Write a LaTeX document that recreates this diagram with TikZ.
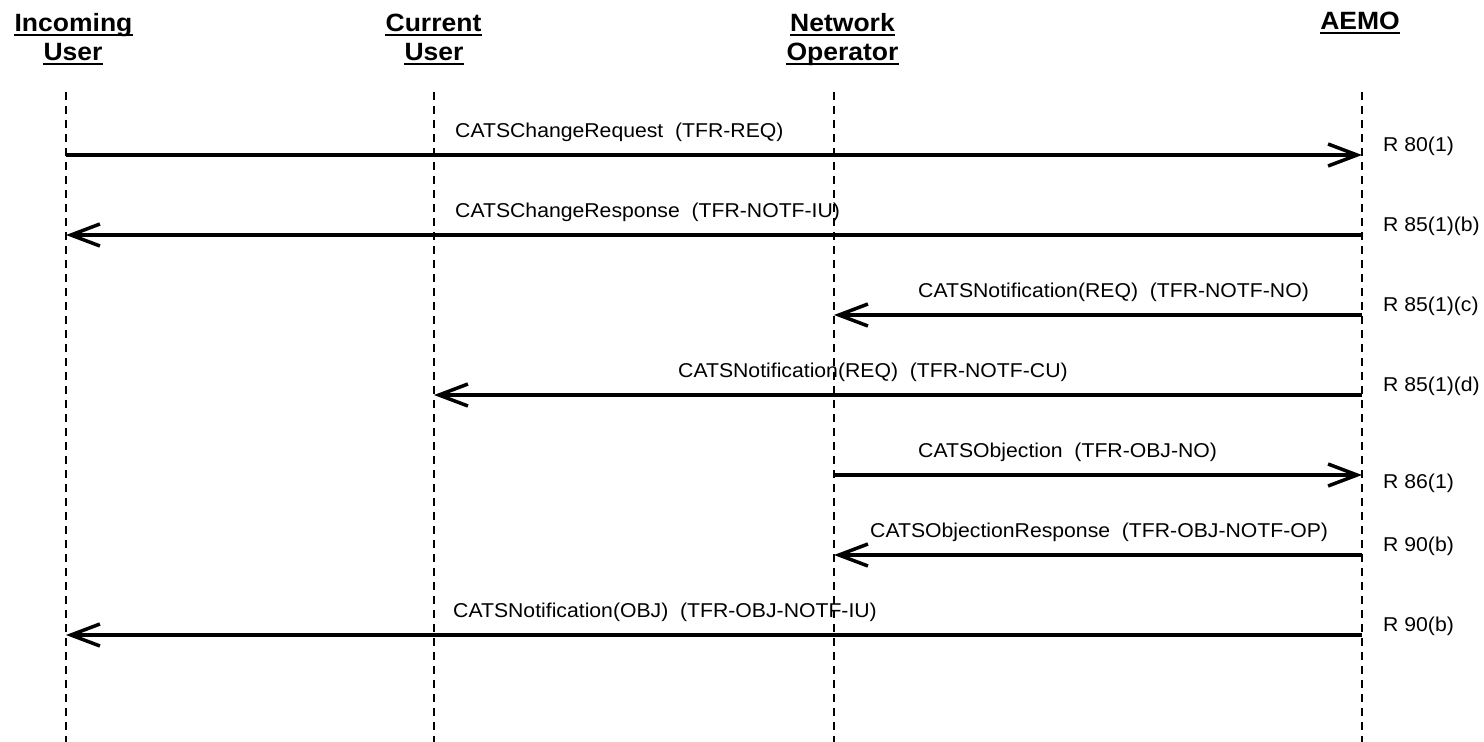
\documentclass[tikz,border=0pt]{standalone}
\usepackage{fontspec}
\setmainfont{Liberation Sans}[FakeStretch=1.06]
\usetikzlibrary{arrows.meta}
\begin{document}
\begin{tikzpicture}[x=1pt,y=-1pt,
  hdr/.style={font=\fontsize{25}{29}\selectfont\bfseries, inner sep=0pt, anchor=base},
  lbl/.style={font=\fontsize{20}{24}\selectfont, inner sep=0pt, anchor=base west},
  life/.style={line width=1.5pt, dash pattern=on 8pt off 6pt},
  msg/.style={line width=3.5pt, -{Straight Barb[length=29pt,width=22pt]}},
  ulstyle/.style={line width=2.2pt}]
\useasboundingbox (0,0) rectangle (1484,742);

% headers
\node[hdr] (h1a) at (73.5,31) {Incoming};
\node[hdr] (h1b) at (73,60) {User};
\node[hdr] (h2a) at (433.5,31) {Current};
\node[hdr] (h2b) at (434,60) {User};
\node[hdr] (h3a) at (842.5,31) {Network};
\node[hdr] (h3b) at (842.5,60) {Operator};
\node[hdr] (h4a) at (1360,29) {AEMO};
\foreach \n in {h1a,h1b,h2a,h2b,h3a,h3b,h4a}
  \draw[ulstyle] ([yshift=-4pt]\n.base west) -- ([yshift=-4pt]\n.base east);

% lifelines
\coordinate (iuT) at (66,92);   \coordinate (iuB) at (66,742);
\coordinate (cuT) at (434,92);  \coordinate (cuB) at (434,742);
\coordinate (noT) at (834,92);  \coordinate (noB) at (834,742);
\coordinate (aeT) at (1362,92); \coordinate (aeB) at (1362,742);
\draw[life] (iuT) -- (iuB);
\draw[life] (cuT) -- (cuB);
\draw[life] (noT) -- (noB);
\draw[life] (aeT) -- (aeB);

% message endpoints
\coordinate (iu1) at (66,155);   \coordinate (ae1) at (1362,155);
\coordinate (iu2) at (66,235);   \coordinate (ae2) at (1362,235);
\coordinate (no3) at (834,315);  \coordinate (ae3) at (1362,315);
\coordinate (cu4) at (434,395);  \coordinate (ae4) at (1362,395);
\coordinate (no5) at (834,475);  \coordinate (ae5) at (1362,475);
\coordinate (no6) at (834,555);  \coordinate (ae6) at (1362,555);
\coordinate (iu7) at (66,635);   \coordinate (ae7) at (1362,635);

\draw[msg] (iu1) -- (ae1);
\draw[msg] (ae2) -- (iu2);
\draw[msg] (ae3) -- (no3);
\draw[msg] (ae4) -- (cu4);
\draw[msg] (no5) -- (ae5);
\draw[msg] (ae6) -- (no6);
\draw[msg] (ae7) -- (iu7);

% message labels
\node[lbl] (l1) at (455,137) {CATSChangeRequest\ \ (TFR-REQ)};
\node[lbl] (l2) at (455,217) {CATSChangeResponse\ \ (TFR-NOTF-IU)};
\node[lbl] (l3) at (918,297) {CATSNotification(REQ)\ \ (TFR-NOTF-NO)};
\node[lbl] (l4) at (678,377) {CATSNotification(REQ)\ \ (TFR-NOTF-CU)};
\node[lbl] (l5) at (918,457) {CATSObjection\ \ (TFR-OBJ-NO)};
\node[lbl] (l6) at (870,537) {CATSObjectionResponse\ \ (TFR-OBJ-NOTF-OP)};
\node[lbl] (l7) at (453,617) {CATSNotification(OBJ)\ \ (TFR-OBJ-NOTF-IU)};

% rule references
\node[lbl] (r1) at (1383,151) {R 80(1)};
\node[lbl] (r2) at (1383,231) {R 85(1)(b)};
\node[lbl] (r3) at (1383,311) {R 85(1)(c)};
\node[lbl] (r4) at (1383,391) {R 85(1)(d)};
\node[lbl] (r5) at (1383,488) {R 86(1)};
\node[lbl] (r6) at (1383,551) {R 90(b)};
\node[lbl] (r7) at (1383,631) {R 90(b)};
\end{tikzpicture}
\end{document}
